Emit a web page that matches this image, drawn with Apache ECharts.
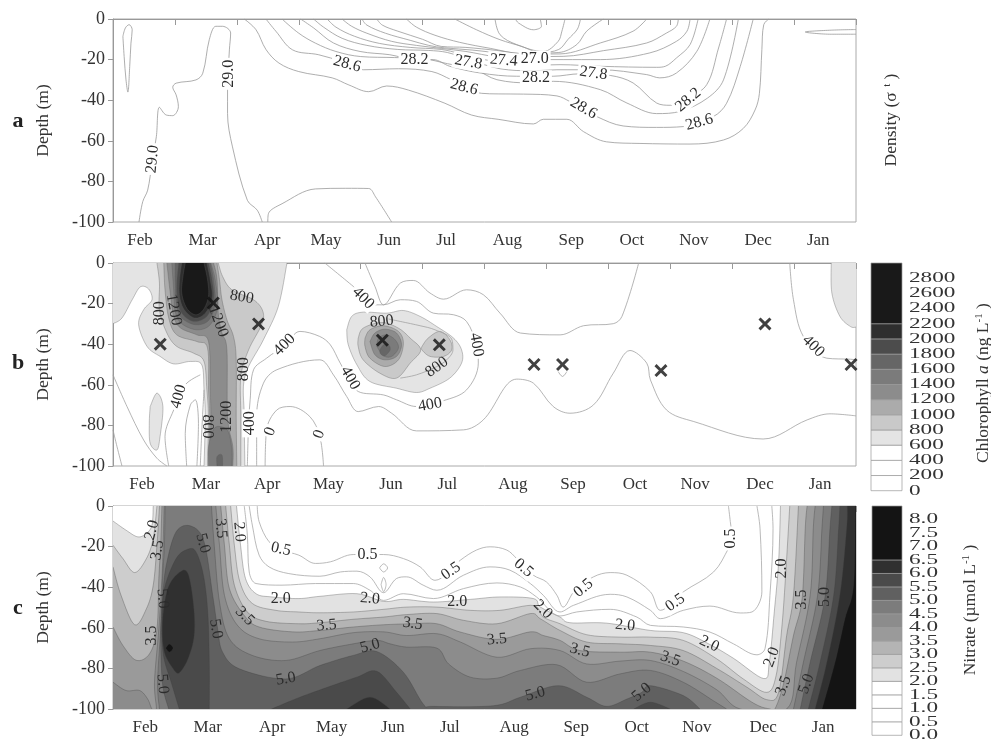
<!DOCTYPE html>
<html><head><meta charset="utf-8">
<style>html,body{margin:0;padding:0;background:#fff}#c{width:991px;height:739px}canvas{filter:blur(.4px)}</style>
<script src="https://cdn.jsdelivr.net/npm/echarts@6/dist/echarts.min.js"></script>
</head><body><div id="c"></div>
<script>
const months=['Feb','Mar','Apr','May','Jun','Jul','Aug','Sep','Oct','Nov','Dec','Jan'];
const depthTicks=[0,-20,-40,-60,-80,-100];
const monthLabelsA=[.436,1.45,2.49,3.44,4.46,5.38,6.37,7.4,8.38,9.38,10.42,11.39];
const monthLabelsB=[.47,1.5,2.49,3.48,4.49,5.4,6.46,7.43,8.43,9.4,10.45,11.42];
const monthLabelsC=[.52,1.53,2.57,3.53,4.52,5.44,6.48,7.48,8.46,9.43,10.5,11.47];

// ---------- a: density contours, [month since start, depth m]
const d_tongue=[[.16,-8.6],[.2,-4.4],[.26,-2.8],[.31,-5.3],[.29,-11.9],[.27,-23.4],[.24,-36],[.21,-30],[.18,-18.5],[.16,-8.6]];
const d_290a=[[.42,-100],[.48,-90],[.56,-84.3],[.63,-71],[.70,-58],[.75,-43.5],[.86,-47.3],[.965,-47.6],[1.056,-43.2],[1.02,-37.4],[.965,-33.6],[1.02,-31.6],[1.34,-30],[1.45,-26.7],[1.555,-10.2],[1.66,-3.6],[1.77,-3.6],[1.90,-6.9],[1.88,-15.2],[1.85,-35],[1.85,-46.5],[1.93,-63],[2.17,-89.3],[2.33,-94.2],[2.41,-100]];
const d_290b=[[2.50,-100],[2.51,-95.9],[2.73,-91],[3.27,-83.7],[3.75,-83.4],[4.13,-83.5],[4.24,-87.6],[4.50,-100]];
const d_288=[[2.12,0],[2.31,-5.3],[2.47,-15],[2.68,-21.7],[3.0,-25.9],[3.54,-29],[3.81,-32.5],[4.13,-35.8],[4.42,-33],[4.77,-35],[5.36,-41.5],[5.79,-47.3],[6.22,-49.4],[6.79,-51.7],[6.95,-49.4],[7.33,-49.4],[7.6,-55.5],[7.97,-60.5],[8.51,-61.3],[9.32,-61.6],[9.86,-59.6],[10.18,-53.9],[10.37,-44.8],[10.44,-36.6],[10.48,-15],[10.51,-2.8],[10.59,0]];
const d_286=[[2.47,0],[2.63,-6],[2.9,-15.2],[3.32,-17.6],[3.7,-21],[4.05,-25],[4.61,-24.5],[5.15,-25.9],[5.47,-30],[5.95,-36.6],[6.22,-36.9],[6.63,-37],[7.17,-37.9],[7.38,-40.7],[7.81,-48],[8.24,-52.7],[8.78,-53.4],[9.21,-53],[9.7,-48],[9.91,-41.5],[10.13,-23.4],[10.34,0]];
const d_284=[[2.73,0],[3.0,-7],[3.27,-11.9],[3.6,-16],[4.0,-18.5],[4.55,-19],[5.0,-19.5],[5.4,-22],[5.85,-25],[6.2,-29.9],[6.75,-31.5],[7.11,-30.7],[7.87,-34.8],[8.3,-41.4],[8.78,-46.6],[9.16,-45.5],[9.6,-39],[9.86,-30],[10.1,0]];
const d_282=[[3.03,0],[3.24,-4.4],[3.56,-11.8],[3.99,-16],[4.47,-17.6],[4.88,-20],[5.17,-20],[5.44,-23.3],[5.93,-26.6],[6.52,-28.2],[7.11,-28.2],[7.54,-27],[8.03,-27.8],[8.4,-31.5],[8.78,-41.4],[9.0,-42.5],[9.29,-38.9],[9.59,-32.3],[9.78,-14.3],[9.91,0]];
const d_280=[[3.24,0],[3.4,-4],[3.7,-9.5],[4.1,-13],[4.6,-15],[5.1,-15.5],[5.4,-16.5],[5.75,-20],[6.25,-24.5],[6.8,-25.5],[7.17,-25],[7.87,-25],[8.62,-27.4],[8.83,-29],[9.1,-26.6],[9.43,-15.9],[9.64,0]];
const d_278=[[3.46,0],[3.6,-4],[3.9,-8.5],[4.3,-12],[4.8,-14],[5.3,-15],[5.6,-17],[6.0,-20],[6.5,-22.5],[6.9,-22.7],[7.22,-22.5],[7.87,-23.3],[8.78,-23.8],[8.92,-23.3],[9.1,-19.2],[9.32,-12.6],[9.45,0]];
const d_276=[[3.7,0],[3.85,-3.5],[4.1,-7],[4.5,-11],[4.9,-13],[5.3,-14.5],[5.7,-16],[6.2,-18.7],[6.8,-20],[7.27,-20],[7.87,-20],[8.67,-16.7],[9.1,-11],[9.27,-6],[9.32,0]];
const d_274=[[4.02,0],[4.1,-3],[4.4,-7],[4.8,-10.5],[5.1,-13],[5.35,-14.2],[5.8,-15.3],[6.3,-17],[6.8,-18.5],[7.27,-18.4],[7.92,-15.6],[8.62,-11.8],[8.94,-6.9],[9.1,-3.6],[9.13,0]];
const d_272=[[4.26,0],[4.35,-3],[4.6,-6],[5.0,-10],[5.3,-13.5],[5.7,-14],[6.2,-15.5],[6.7,-17.3],[7.22,-17.2],[7.87,-11.8],[8.4,-6],[8.62,0]];
const d_270=[[4.74,0],[4.9,-4],[5.2,-8],[5.6,-11.5],[6.1,-14.5],[6.6,-17],[7.2,-16.5],[7.49,-12.6],[7.65,-6],[7.92,0]];
const d_268=[[5.52,0],[5.87,-5.3],[6.25,-10.2],[6.6,-13.5],[6.9,-16.5],[7.2,-15],[7.35,-10],[7.5,-5],[7.55,0]];
const d_266=[[6.17,0],[6.25,-7.7],[6.52,-12.6],[6.95,-16],[7.19,-11],[7.25,-6],[7.3,0]];
const d_264=[[6.5,0],[6.55,-2],[6.79,-5.3],[6.92,-3.6],[6.9,0]];
const d_wedge=[[12,-5.2],[11.6,-5.5],[11.18,-6.4],[11.6,-7.5],[12,-7.5]];
const densityLines=[d_tongue,d_290a,d_290b,d_288,d_286,d_284,d_282,d_280,d_278,d_276,d_274,d_272,d_270,d_268,d_266,d_264,d_wedge];
const densityLabels=[[.64,-69,'29.0',85],[1.87,-27,'29.0',90],[3.78,-22.2,'28.6',-15],[4.87,-20,'28.2',0],[5.74,-21.3,'27.8',-10],[5.67,-33.6,'28.6',-15],[6.31,-20.4,'27.4',-5],[6.81,-19.6,'27.0',0],[6.83,-29.2,'28.2',0],[7.76,-26.7,'27.8',-8],[7.6,-44,'28.6',-30],[9.29,-39.9,'28.2',40],[9.47,-50.9,'28.6',15]];

// ---------- b: chlorophyll
const chlLevels=[0,200,400,600,800,1000,1200,1400,1600,1800,2000,2200,3000];
const chlShades=['#ffffff','#ffffff','#ffffff','#e4e4e4','#c9c9c9','#ababab','#8c8c8c','#7b7b7b','#666666','#4c4c4c','#2e2e2e','#191919'];
const chlTickLabels=[0,200,400,600,800,1000,1200,1400,1600,1800,2000,2200,2400,2600,2800];
const chl600A=[[0,-29.9],[.145,-27.1],[.31,-18.1],[.44,-11.8],[.575,-12.8],[.63,-18.1],[.495,-23],[.414,-30.4],[.55,-41.1],[.76,-46],[.98,-49.7],[1.25,-48.5],[1.435,-50.2],[1.47,-62.5],[1.49,-75.7],[1.47,-100]];
const chl600B=[[2.13,-100],[2.12,-75.7],[2.13,-55.9],[2.43,-37.8],[2.67,-21.4],[2.81,0]];
const chl600Island=[[.60,-70.7],[.71,-64.1],[.806,-70.7],[.76,-85.5],[.71,-92.1],[.60,-88.8],[.586,-78.9],[.60,-70.7]];
const chl600Corner=[[11.6,0],[11.61,-14.8],[11.74,-26.3],[11.91,-31.3],[12,-31.6]];
const chl600Jun=[[3.775,-32.9],[3.855,-26.3],[4.04,-24.2],[4.42,-24.7],[4.69,-23.4],[4.96,-26.3],[5.23,-31.3],[5.5,-37],[5.63,-42.8],[5.63,-49.3],[5.44,-56.7],[5.12,-61.7],[4.90,-63.8],[4.58,-61.7],[4.15,-58.4],[3.94,-50.2],[3.80,-40.3],[3.775,-32.9]];
const chl800L=[[.71,0],[.75,-9.9],[.75,-23],[.87,-34.5],[1.03,-41.1],[1.30,-44.4],[1.47,-48.5],[1.516,-62.5],[1.54,-75.7],[1.527,-100]];
const chl800R=[[2.065,-100],[2.065,-75.7],[2.065,-55.9],[2.19,-42.8],[2.40,-30.4],[2.42,-23.8],[2.27,-18.1],[1.92,-13.2],[1.77,-6.6],[1.70,0]];
const chl800Drop=[[3.96,-37],[4.04,-32.1],[4.34,-29.3],[4.61,-32.1],[4.80,-37],[4.97,-42.8],[4.80,-49.3],[4.58,-56.7],[4.31,-54.3],[4.04,-47.7],[3.96,-41.1],[3.96,-37]];
const chl800Lobe=[[4.99,-41.1],[5.09,-37],[5.28,-33.7],[5.44,-37.8],[5.47,-42.8],[5.34,-46],[5.12,-46],[4.99,-42.8],[4.99,-41.1]];
const chl1000L=[[.82,0],[.84,-13.2],[.90,-27.1],[1.03,-35.4],[1.355,-38.7],[1.527,-41.9],[1.543,-62.5],[1.56,-75.7],[1.55,-100]];
const chl1000R=[[2.0,-100],[1.99,-75.7],[1.99,-47.7],[1.946,-36.2],[1.84,-28],[1.76,-18.1],[1.72,-8.2],[1.68,0]];
const chl1000Jun=[[4.07,-37],[4.15,-32.9],[4.37,-30.9],[4.61,-33.7],[4.69,-39.5],[4.61,-47.7],[4.39,-51],[4.15,-46.9],[4.07,-41.1],[4.07,-37]];
const chl1200L=[[.87,0],[.925,-14.8],[.98,-26.3],[1.09,-32],[1.355,-35.4],[1.543,-38.7],[1.57,-62.5],[1.58,-75.7],[1.57,-100]];
const chl1200R=[[1.935,-100],[1.935,-90.5],[1.85,-75.7],[1.84,-42.8],[1.76,-34.5],[1.70,-24.7],[1.68,-8.2],[1.624,0]];
const chl1200Jun=[[4.15,-38.7],[4.23,-34.5],[4.39,-32.6],[4.58,-34.5],[4.66,-40.3],[4.58,-46],[4.39,-47.7],[4.23,-45.2],[4.15,-38.7]];
const chl1400Top=[[.95,0],[.98,-13.2],[1.005,-24],[1.11,-29.9],[1.355,-32.9],[1.57,-30.4],[1.69,-21.4],[1.65,-8.2],[1.58,0]];
const chl1400Low=[[1.543,-100],[1.543,-90.5],[1.624,-82],[1.73,-80.6],[1.86,-83],[1.92,-92],[1.92,-100]];
const chl1400Jun=[[4.26,-41.1],[4.29,-37],[4.42,-35.4],[4.555,-37.8],[4.61,-41.9],[4.50,-46],[4.37,-45.7],[4.26,-41.1]];
const chl1600Top=[[1.005,0],[1.005,-11.5],[1.03,-21.4],[1.11,-27.1],[1.33,-30.4],[1.543,-28.3],[1.65,-19.7],[1.624,-8.2],[1.57,0]];
const chl1600Low=[[1.68,-100],[1.68,-95.4],[1.76,-94.6],[1.77,-100]];
const chl1600Jun=[[4.31,-42.8],[4.37,-40.3],[4.45,-40.3],[4.475,-42.8],[4.39,-45.7],[4.32,-44.7],[4.31,-42.8]];
const chl1800=[[1.06,0],[1.03,-9.9],[1.04,-18.1],[1.11,-24.7],[1.30,-28.8],[1.516,-26.3],[1.624,-18.1],[1.60,-8.2],[1.543,0]];
const chl2000=[[1.11,0],[1.075,-8.2],[1.075,-16.4],[1.15,-23],[1.32,-27.1],[1.49,-24.7],[1.60,-17.3],[1.57,-8.2],[1.516,0]];
const chl2200=[[1.167,0],[1.13,-6.6],[1.11,-14.8],[1.19,-22.2],[1.33,-25.5],[1.46,-23],[1.543,-16.4],[1.527,-8.2],[1.47,0]];
const chlJun800Line=[[4.45,-27.6],[4.96,-30.9],[5.2,-32.9],[5.47,-37.5],[5.49,-42.8],[5.39,-47.7],[5.23,-51],[4.90,-55.1],[4.64,-56.7]];
const chlOpen400=[[3.42,0],[3.88,-11.5],[4.23,-20.6],[4.37,-20.6],[4.64,-18.1],[4.90,-18.9],[5.175,-24.7],[5.5,-25.5],[5.71,-28.8],[5.87,-40.3],[5.90,-49.3],[5.71,-62.5],[5.34,-67.8],[4.90,-70.7],[4.58,-67.4],[4.37,-65],[3.96,-63.3],[3.67,-49.3],[3.51,-40.3],[3.34,-36.2],[3.02,-33.7],[2.78,-40.3],[2.48,-46.9],[2.27,-52.6],[2.215,-67.4],[2.19,-79],[2.17,-100]];
const chlTop200=[[4.07,0],[4.23,-11.5],[4.37,-20.6],[4.64,-9.9],[4.85,-8.6],[5.12,-14.8],[5.34,-17.8],[5.71,-13.2],[5.98,-15.6],[6.25,-24.7],[6.58,-34.5],[7.22,-35.4],[7.6,-30.9],[8.08,-29.9],[8.22,-26.3],[8.49,0]];
const chlLow200=[[2.32,-100],[2.32,-75.7],[2.43,-59.2],[2.645,-52.6],[3.34,-47.7],[3.56,-55.1],[3.775,-65.8],[3.96,-73.2],[4.29,-70.7],[4.5,-74],[4.9,-82.7],[5.66,-82.2],[5.98,-77.3],[6.52,-57.2],[6.79,-59.2],[7.11,-70.7],[7.38,-74],[7.76,-69.9],[8.08,-54.3],[8.35,-43.1],[8.62,-49.3],[8.68,-57.6],[8.94,-72.4],[9.38,-78.1],[10.5,-86.7],[11.21,-77.3],[11.58,-74.3],[12,-75.3]];
const chlArch0=[[2.457,-100],[2.48,-82.2],[2.645,-72.4],[2.86,-70.7],[3.18,-75.7],[3.34,-85.5],[3.4,-100]];
const chlJan400=[[10.93,0],[10.99,-18.1],[11.15,-36.2],[11.53,-46.9],[11.91,-47.4],[12,-47.7]];
const chlFeb1=[[0,-55.1],[.226,-70.7],[.495,-87.2],[.71,-96.2],[.87,-100]];
const chlFeb2=[[0,-82.2],[.065,-90.5],[.145,-100]];
const chlFeb3=[[.90,-100],[.84,-85.5],[.98,-72.4],[1.167,-60],[1.41,-55.1]];
const chlMar1=[[1.19,-100],[1.167,-83.9],[1.25,-69.9],[1.33,-67.4],[1.38,-79],[1.355,-100]];
const chlMar2=[[1.41,-100],[1.435,-82.2],[1.47,-62.5]];
const chlSep=[[7.19,-53.5],[7.26,-55.9],[7.33,-53.5]];
const chlOpenLines=[chlJun800Line,chlOpen400,chlTop200,chlLow200,chlArch0,chlJan400,chlFeb1,chlFeb2,chlFeb3,chlMar1,chlMar2,chlSep];
const chlSamples=[[.763,-40],[1.62,-19.7],[2.35,-30],[4.35,-38],[5.27,-40.3],[6.8,-50],[7.26,-50],[8.85,-53],[10.53,-30],[11.92,-50]];
const chlLabelsWhite=[[2.77,-40.3,'400',45],[1.06,-65.8,'400',75],[2.215,-79,'400',90],[2.54,-83,'0',70],[3.33,-84.4,'0',70],[4.04,-17.3,'400',-45],[5.87,-40.3,'400',-80],[3.83,-56.7,'400',-60],[5.12,-69.9,'400',10],[11.31,-41,'400',-45]];
const chlLabelsShade=[[.76,-24.7,'800',90],[.98,-23,'1200',-80],[1.70,-28.8,'1200',-70],[2.08,-16.8,'800',-10],[2.11,-52.3,'800',90],[1.52,-80.6,'800',-90],[1.83,-75.7,'1200',90],[4.34,-28.8,'800',5],[5.23,-51.3,'800',35]];

// ---------- c: nitrate
const nitLevels=[0,.5,1,1.5,2,2.5,3,3.5,4,4.5,5,5.5,6,6.5,8.5];
const nitShades=['#ffffff','#ffffff','#ffffff','#ffffff','#e2e2e2','#cdcdcd','#b4b4b4','#9a9a9a','#8c8c8c','#7c7c7c','#606060','#4a4a4a','#303030','#141414'];
const nitTickLabels=['0.0','0.5','1.0','1.5','2.0','2.5','3.0','3.5','4.0','4.5','5.0','5.5','6.0','6.5','7.0','7.5','8.0'];
const n05=[[2.33,0],[2.36,-7.7],[2.52,-17.6],[2.73,-21.7],[3.0,-24.2],[3.27,-28.3],[3.51,-27.5],[3.88,-23.9],[4.37,-23.9],[4.69,-25.9],[4.96,-30],[5.2,-36.6],[5.61,-26.7],[5.87,-21.7],[6.09,-20.1],[6.36,-21.7],[6.52,-25.9],[6.79,-34.1],[7.0,-37.4],[7.17,-44],[7.27,-49.8],[7.46,-41.5],[7.76,-34.9],[8.03,-32.8],[8.3,-34.1],[8.68,-42.3],[8.84,-51.4],[9.21,-42.3],[9.7,-32.5],[9.94,-20.9],[10.0,-16],[9.97,-7.7],[9.94,0]];
const n05LoopA=[[4.305,-30.5],[4.37,-28.5],[4.435,-30.5],[4.37,-32.5],[4.305,-30.5]];
const n05LoopB=[[4.33,-38.7],[4.37,-35.2],[4.41,-38.7],[4.37,-42.2],[4.33,-38.7]];
const n10=[[2.2,0],[2.25,-9.4],[2.36,-24.2],[2.52,-30],[2.84,-33.3],[3.34,-34.6],[3.67,-32.5],[3.94,-32.1],[4.15,-34.9],[4.37,-42.7],[4.58,-35.7],[4.74,-34.9],[5.01,-39],[5.23,-41.5],[5.66,-34.1],[6.09,-30],[6.41,-31.6],[6.74,-38.2],[6.95,-44],[7.22,-52.2],[7.44,-48.9],[8.03,-43.5],[8.3,-44.8],[8.68,-51.4],[8.84,-55.5],[9.21,-51.4],[9.64,-49.3],[10.13,-52.7],[10.32,-52.2],[10.48,-42.3],[10.45,-11],[10.4,0]];
const n15=[[2.12,0],[2.17,-14.3],[2.2,-32.5],[2.31,-38.2],[2.73,-39],[3.27,-38.2],[3.88,-38.2],[4.15,-41.5],[4.37,-46.5],[4.69,-43.2],[5.175,-45.6],[5.66,-40.7],[6.2,-37.9],[6.58,-39.9],[6.84,-44.8],[7.22,-54.2],[7.49,-52.2],[8.03,-50.9],[8.46,-54.7],[8.68,-58.8],[9.21,-59.6],[9.64,-62.1],[10.02,-67.9],[10.4,-73.3],[10.53,-70.3],[10.61,-44],[10.66,-11],[10.64,0]];
const n20=[[1.995,0],[2.06,-19.3],[2.14,-35.7],[2.31,-43.2],[2.57,-44.8],[3.0,-45.6],[3.34,-44.5],[3.94,-43.2],[4.37,-47],[4.69,-46],[5.175,-47.3],[5.77,-46],[6.25,-44.8],[6.79,-45.6],[6.9,-49.7],[7.22,-54.7],[7.38,-57.5],[7.97,-57.7],[8.68,-61.3],[9.21,-62.4],[9.62,-67.9],[10.02,-75],[10.51,-85],[10.6,-77],[10.68,-52.2],[10.75,-27.5],[10.78,0]];
const n25=[[1.9,0],[1.96,-19.3],[2.05,-37.4],[2.25,-48],[2.63,-51.4],[3.0,-52.2],[3.34,-52.6],[3.88,-52.2],[4.37,-50.9],[4.74,-49.8],[5.23,-49.8],[5.77,-51.4],[6.25,-51.4],[6.79,-49],[6.95,-54.7],[7.22,-58],[7.65,-63.4],[8.19,-64.6],[8.68,-64.6],[9.21,-66.2],[9.75,-75.3],[10.18,-85.2],[10.56,-91.8],[10.71,-83.5],[10.8,-60.5],[10.86,-35.7],[10.93,0]];
const n30=[[1.82,0],[1.88,-19.3],[1.96,-39],[2.17,-52.2],[2.47,-56.8],[3.0,-58],[3.34,-57.5],[3.88,-55.8],[4.37,-54.7],[4.74,-53.5],[5.23,-53],[5.66,-56.3],[6.2,-58],[6.74,-53],[6.9,-55.5],[7.22,-61.3],[7.65,-67],[8.19,-67.9],[8.68,-68.7],[9.21,-71.2],[9.75,-80],[10.24,-89.3],[10.56,-95.4],[10.75,-91.8],[10.88,-63.8],[10.99,-44],[11.07,0]];
const n35=[[1.74,0],[1.80,-19.3],[1.88,-40.7],[2.12,-53.9],[2.36,-59.6],[2.9,-62],[3.34,-61.3],[3.88,-59.6],[4.37,-58.5],[4.82,-58],[5.23,-58],[5.61,-62.1],[6.2,-65.7],[6.74,-62],[6.95,-63.8],[7.22,-66.2],[7.54,-71.2],[8.19,-72],[8.68,-72],[9.21,-76.4],[9.75,-84.8],[10.24,-95.1],[10.45,-98.7],[10.61,-100],[10.69,-100],[10.83,-87.6],[10.99,-63.8],[11.13,-45.6],[11.18,-11],[11.21,0]];
const n40=[[1.66,0],[1.72,-19.3],[1.80,-44],[2.01,-58.8],[2.36,-65.4],[2.9,-67],[3.34,-65.4],[3.88,-62.4],[4.37,-62],[4.74,-63.8],[5.23,-62.9],[5.61,-67],[6.2,-74.5],[6.74,-70.3],[7.22,-71.2],[7.65,-77.8],[8.19,-76.4],[8.68,-76.1],[9.21,-81.5],[9.75,-90.5],[10.13,-100],[10.88,-100],[11.04,-77],[11.26,-44],[11.31,-11],[11.34,0]];
const nT20=[[0,-7.4],[.21,-11.9],[.40,-15.2],[.54,-13.5],[.63,-9.4],[.65,0]];
const nT25=[[0,-19.3],[.16,-25.9],[.35,-32.8],[.54,-25.9],[.65,-16],[.71,0]];
const nT30=[[0,-30],[.13,-44],[.35,-58.5],[.54,-50.6],[.65,-39],[.71,-19.3],[.75,0]];
const nT35=[[0,-59.6],[.16,-68.7],[.375,-76],[.59,-72.8],[.71,-60.5],[.74,-35.7],[.77,-19.3],[.79,0]];
const nT40=[[0,-86.8],[.21,-90.9],[.43,-90.9],[.56,-95.1],[.63,-100],[.70,-100],[.67,-86.8],[.74,-60.5],[.79,-35.7],[.81,-19.3],[.825,0]];
const n45L=[[.75,-100],[.72,-86.8],[.77,-60.5],[.80,-35.7],[.83,-19.3],[.84,0]];
const n45R=[[1.59,0],[1.635,-19.3],[1.72,-47.3],[1.88,-65.4],[2.25,-73.6],[2.79,-76.1],[3.34,-71.2],[3.88,-67.9],[4.26,-66.2],[4.475,-67.9],[4.74,-69.5],[5.23,-70],[5.42,-77.8],[5.77,-84.3],[6.2,-84.8],[6.58,-81],[7.17,-78.2],[7.65,-86.8],[8.19,-82.7],[8.68,-81],[9.21,-86.8],[9.7,-96],[9.91,-100]];
const n50=[[.90,-100],[.80,-87.6],[.77,-63.8],[.80,-45.6],[.86,-29.2],[1.02,-12.7],[1.26,-9.9],[1.47,-17.6],[1.61,-44],[1.69,-60.5],[1.77,-72],[2.04,-80.2],[2.79,-85.2],[3.34,-78.6],[3.88,-73.6],[4.26,-71.7],[4.69,-81.9],[5.01,-97.5],[5.175,-98.7],[6.14,-98.4],[6.58,-94.2],[7.19,-88.5],[7.65,-94.2],[7.97,-98.7],[8.3,-95.1],[8.54,-91.8],[8.68,-88.5],[9.21,-93.4],[9.48,-100]];
const n55Col=[[1.07,-100],[.94,-86.8],[.815,-73.6],[.79,-57.2],[.83,-40.7],[1.02,-25.9],[1.21,-21.3],[1.34,-22.6],[1.46,-34.1],[1.53,-52.2],[1.555,-76.9],[1.555,-100]];
const n60Col=[[.99,-81],[.83,-72],[.80,-57.2],[.885,-40.7],[1.07,-32.8],[1.21,-33.3],[1.30,-48.9],[1.31,-63.8],[1.21,-75.3],[1.07,-82.2],[.99,-81]];
const n65Dot=[[.85,-70],[.91,-68],[.97,-70],[.91,-72],[.85,-70]];
const n55Jun=[[2.56,-100],[3.02,-94.2],[3.51,-88.8],[3.94,-84.3],[4.26,-81.4],[4.58,-91.8],[4.8,-100]];
const n60Jun=[[3.775,-100],[4.15,-94.2],[4.475,-100]];
const n55Oct=[[8.41,-100],[8.68,-96.7],[9.0,-100]];
const n45Jan=[[10.99,-100],[11.15,-77],[11.38,-44],[11.45,-11],[11.475,0]];
const n50Jan=[[11.1,-100],[11.26,-77],[11.5,-44.8],[11.58,-11],[11.61,0]];
const n55Jan=[[11.23,-100],[11.42,-77],[11.64,-44],[11.72,-11],[11.74,0]];
const n60Jan=[[11.34,-100],[11.53,-77],[11.74,-44],[11.85,-11],[11.86,0]];
const n65Jan=[[11.45,-100],[11.66,-77],[11.82,-55.5],[11.96,-39],[11.99,0]];
const nitLabelsWhite=[[2.71,-21.3,'0.5',-12],[4.11,-23.9,'0.5',0],[5.46,-32.1,'0.5',35],[6.63,-30.5,'0.5',-40],[7.6,-40.4,'0.5',40],[9.97,-16,'0.5',90],[9.08,-47.6,'0.5',35]];
const nitLabelsShade=[[.63,-11.9,'2.0',75],[.72,-21.7,'3.5',80],[.80,-45.6,'5.0',-85],[.62,-63.8,'3.5',90],[.80,-87.6,'5.0',-85],[1.45,-18.4,'5.0',-75],[1.66,-60.5,'5.0',-80],[1.74,-11,'3.5',-85],[2.04,-12.7,'2.0',-85],[2.71,-45.6,'2.0',0],[2.13,-54.2,'3.5',-45],[2.79,-85.2,'5.0',10],[4.15,-45.6,'2.0',-5],[5.56,-47,'2.0',0],[6.94,-50.9,'2.0',-45],[8.27,-58.8,'2.0',-5],[3.45,-58.8,'3.5',5],[4.84,-58,'3.5',-8],[6.2,-65.7,'3.5',5],[7.54,-71.2,'3.5',-15],[4.15,-69,'5.0',15],[6.82,-92.6,'5.0',15],[8.54,-91.8,'5.0',40],[10.8,-30.8,'2.0',90],[10.64,-74.5,'2.0',70],[9.63,-67.9,'2.0',-25],[9.0,-75.3,'3.5',-20],[11.13,-46,'3.5',90],[10.83,-88.5,'3.5',70],[11.5,-44.8,'5.0',90],[11.2,-87.6,'5.0',70]];

// ---------- regions built from the arrays above: [shade, ...segments]
const C00=[[0,0]],C120=[[12,0]],C12B=[[12,-100]],C0B=[[0,-100]];
const chlShade=v=>chlShades[chlLevels.indexOf(v)];
const nitShade=v=>nitShades[nitLevels.indexOf(v)];
const chlRegions=[
 [chlShade(600),chl600A,chl600B,C00],[chlShade(600),chl600Island],[chlShade(600),chl600Corner,C120],[chlShade(600),chl600Jun],
 [chlShade(800),chl800L,chl800R],[chlShade(800),chl800Drop],[chlShade(800),chl800Lobe],
 [chlShade(1000),chl1000L,chl1000R],[chlShade(1000),chl1000Jun],
 [chlShade(1200),chl1200L,chl1200R],[chlShade(1200),chl1200Jun],
 [chlShade(1400),chl1400Top],[chlShade(1400),chl1400Low],[chlShade(1400),chl1400Jun],
 [chlShade(1600),chl1600Top],[chlShade(1600),chl1600Low],[chlShade(1600),chl1600Jun],
 [chlShade(1800),chl1800],[chlShade(2000),chl2000],[chlShade(2200),chl2200]
];
const nitRegions=[
 [nitShade(4),C00,C120,C12B,C0B],
 [nitShade(3.5),n40],[nitShade(3.5),nT40,C00],
 [nitShade(3),n35],[nitShade(3),nT35,C00],
 [nitShade(2.5),n30],[nitShade(2.5),nT30,C00],
 [nitShade(2),n25],[nitShade(2),nT25,C00],
 [nitShade(1.5),n20],[nitShade(1.5),nT20,C00],
 [nitShade(4.5),n45L,n45R],[nitShade(4.5),n45Jan,C120,C12B],
 [nitShade(5),n50],[nitShade(5),n50Jan,C120,C12B],
 [nitShade(5.5),n55Col],[nitShade(5.5),n55Jun],[nitShade(5.5),n55Oct],[nitShade(5.5),n55Jan,C120,C12B],
 [nitShade(6),n60Col],[nitShade(6),n60Jun],[nitShade(6),n60Jan,C120,C12B],
 [nitShade(6.5),n65Dot],[nitShade(6.5),n65Jan,C120,C12B]
];
const nitOpenLines=[n05,n05LoopA,n05LoopB,n10,n15];

// ---------- helpers
const SERIF='"Liberation Serif","Times New Roman",serif';
function spline(p){
  if(p.length<3) return p;
  const out=[];
  for(let i=0;i<p.length-1;i++){
    const a=p[Math.max(i-1,0)],b=p[i],c=p[i+1],d=p[Math.min(i+2,p.length-1)];
    for(let k=0;k<8;k++){
      const t=k/8,t2=t*t,t3=t2*t;
      out.push([
       .5*(2*b[0]+(c[0]-a[0])*t+(2*a[0]-5*b[0]+4*c[0]-d[0])*t2+(3*b[0]-a[0]-3*c[0]+d[0])*t3),
       .5*(2*b[1]+(c[1]-a[1])*t+(2*a[1]-5*b[1]+4*c[1]-d[1])*t2+(3*b[1]-a[1]-3*c[1]+d[1])*t3)]);
    }
  }
  out.push(p[p.length-1]);
  return out;
}
function regionSeries(regions,strokeColor,xi,yi){
  return {type:'custom',coordinateSystem:'cartesian2d',xAxisIndex:xi,yAxisIndex:yi,clip:true,silent:true,animation:false,
    data:regions.map((r,i)=>[i,0]),
    renderItem(params,api){
      const r=regions[api.value(0)],segs=r.slice(1).map(s=>spline(s.map(q=>api.coord(q))));
      const children=[{type:'polygon',shape:{points:[].concat(...segs)},style:{fill:r[0]}}];
      segs.forEach(s=>{ if(s.length>2) children.push({type:'polyline',shape:{points:s},style:{fill:null,stroke:strokeColor,lineWidth:.8}}); });
      return {type:'group',children};
    }};
}
function lineSeries(lines,color,xi,yi){
  return lines.map(l=>({type:'line',xAxisIndex:xi,yAxisIndex:yi,data:l,smooth:.35,showSymbol:false,symbol:'none',silent:true,animation:false,clip:true,z:3,
    lineStyle:{color,width:.8}}));
}
function labelSeries(labels,bg,xi,yi){
  return {type:'custom',coordinateSystem:'cartesian2d',xAxisIndex:xi,yAxisIndex:yi,silent:true,animation:false,z:5,
    data:labels.map(l=>[l[0],l[1],l[3]]),
    renderItem(params,api){
      const l=labels[params.dataIndex],c=api.coord([l[0],l[1]]);
      return {type:'text',x:c[0],y:c[1],rotation:l[3]*Math.PI/180,
        style:{text:l[2],font:'16px '+SERIF,fill:'#2c2c2c',align:'center',verticalAlign:'middle',backgroundColor:bg||null,padding:bg?[0,2]:0}};
    }};
}
function barSeries(levels,shades,xi,yi){
  return {type:'custom',coordinateSystem:'cartesian2d',xAxisIndex:xi,yAxisIndex:yi,silent:true,animation:false,
    data:shades.map((s,i)=>[levels[i],levels[i+1]]),
    renderItem(params,api){
      const a=api.coord([0,api.value(0)]),b=api.coord([1,api.value(1)]);
      return {type:'rect',shape:{x:a[0],y:b[1],width:b[0]-a[0],height:a[1]-b[1]},
        style:{fill:shades[params.dataIndex],stroke:'#999',lineWidth:.7}};
    }};
}
function barLabels(vals,nums,xi,yi){
  return {type:'custom',coordinateSystem:'cartesian2d',xAxisIndex:xi,yAxisIndex:yi,silent:true,animation:false,
    data:vals.map((v,i)=>[1,nums[i]]),
    renderItem(params,api){
      const c=api.coord([1,api.value(1)]);
      return {type:'text',x:c[0]+7,y:c[1],scaleX:1.6,
        style:{text:String(vals[params.dataIndex]),font:'14.5px '+SERIF,fill:'#333',align:'left',verticalAlign:'middle'}};
    }};
}
const GRID=[{left:113,right:135,top:19,height:203},{left:113,right:135,top:263,height:203},{left:113,right:135,top:506,height:203},
  {left:871,width:31,top:263,height:227.7},{left:872,width:30,top:506,height:229.3}];
const gridStyle={show:true,borderColor:'#aaa',borderWidth:1,backgroundColor:'#fff'};
const xAxes=[],yAxes=[];
[monthLabelsA,monthLabelsB,monthLabelsC].forEach((pos,g)=>{
  xAxes.push({gridIndex:g,type:'category',data:months,position:'bottom',boundaryGap:true,
    axisLine:{show:true,lineStyle:{color:'#999'}},axisTick:{show:true,alignWithLabel:false,length:6,lineStyle:{color:'#999'}},
    axisLabel:{show:false},splitLine:{show:false}});
  xAxes.push({gridIndex:g,type:'value',min:0,max:12,position:'bottom',
    axisLine:{show:false},axisTick:{show:false},splitLine:{show:false},
    axisLabel:{color:'#333',fontFamily:SERIF,fontSize:17,margin:10,customValues:pos,hideOverlap:false,
      showMinLabel:true,showMaxLabel:true,formatter:v=>months[pos.indexOf(v)]}});
  yAxes.push({gridIndex:g,type:'value',min:-100,max:0,interval:20,name:'Depth (m)',nameLocation:'middle',nameGap:61,
    nameTextStyle:{color:'#333',fontFamily:SERIF,fontSize:17.5},
    axisLine:{show:true,lineStyle:{color:'#999'}},axisTick:{show:true,length:5,lineStyle:{color:'#999'}},
    axisLabel:{color:'#333',fontFamily:SERIF,fontSize:18,margin:8,customValues:depthTicks},splitLine:{show:false}});
});
xAxes.push({gridIndex:3,type:'value',min:0,max:1,show:false},{gridIndex:4,type:'value',min:0,max:1,show:false});
yAxes.push({gridIndex:3,type:'value',min:0,max:3000,show:false},{gridIndex:4,type:'value',min:0,max:8.5,show:false});

const series=[
  ...lineSeries(densityLines,'#999999',1,0),
  labelSeries(densityLabels,'#fff',1,0),
  regionSeries(chlRegions,'rgba(90,90,90,.45)',3,1),
  ...lineSeries(chlOpenLines,'#a2a2a2',3,1),
  labelSeries(chlLabelsWhite,'#fff',3,1),
  labelSeries(chlLabelsShade,null,3,1),
  {type:'scatter',xAxisIndex:3,yAxisIndex:1,data:chlSamples,symbol:'path://M1.6 0L5 3.4L8.4 0L10 1.6L6.6 5L10 8.4L8.4 10L5 6.6L1.6 10L0 8.4L3.4 5L0 1.6Z',symbolSize:13,itemStyle:{color:'#111'},z:6,silent:true,animation:false},
  regionSeries(nitRegions,'rgba(60,60,60,.4)',5,2),
  ...lineSeries(nitOpenLines,'#a8a8a8',5,2),
  labelSeries(nitLabelsWhite,'#fff',5,2),
  labelSeries(nitLabelsShade,null,5,2),
  barSeries(chlLevels,chlShades,6,3),
  barLabels(chlTickLabels,chlTickLabels,6,3),
  barSeries(nitLevels,nitShades,7,4),
  barLabels(nitTickLabels,nitTickLabels.map(Number),7,4)
];
const vtext=(x,y,text,rich)=>({type:'text',x,y,rotation:-Math.PI/2,style:{text,font:'17.5px '+SERIF,fill:'#333',align:'center',verticalAlign:'middle',rich}});
const rich={i:{fontStyle:'italic',fontFamily:SERIF,fontSize:17.5,color:'#333'},s:{fontFamily:SERIF,fontSize:11,verticalAlign:'top',color:'#333',padding:[0,0,8,0]},n:{fontFamily:SERIF,fontSize:17.5,color:'#333'}};
const graphics=[
  Object.assign(vtext(891,120,'{n|Density (σ}{s|  t}{n| )}',rich),{rotation:Math.PI/2}),
  Object.assign(vtext(983,383,'{n|Chlorophyll }{i|a}{n| (ng L}{s|-1}{n| )}',rich),{rotation:Math.PI/2}),
  Object.assign(vtext(970,610,'{n|Nitrate (µmol L}{s|-1}{n| )}',rich),{rotation:Math.PI/2}),
  {type:'text',x:18,y:121,style:{text:'a',font:'bold 22px '+SERIF,fill:'#222',align:'center',verticalAlign:'middle'}},
  {type:'text',x:18,y:363,style:{text:'b',font:'bold 22px '+SERIF,fill:'#222',align:'center',verticalAlign:'middle'}},
  {type:'text',x:18,y:608,style:{text:'c',font:'bold 22px '+SERIF,fill:'#222',align:'center',verticalAlign:'middle'}}
];
const chart=echarts.init(document.getElementById('c'),null,{renderer:'canvas',width:991,height:739});
chart.setOption({animation:false,backgroundColor:'#fff',
  grid:GRID.map((g,i)=>Object.assign({},g,i<3?gridStyle:{show:false})),
  xAxis:xAxes,yAxis:yAxes,series,graphic:graphics});
</script></body></html>
